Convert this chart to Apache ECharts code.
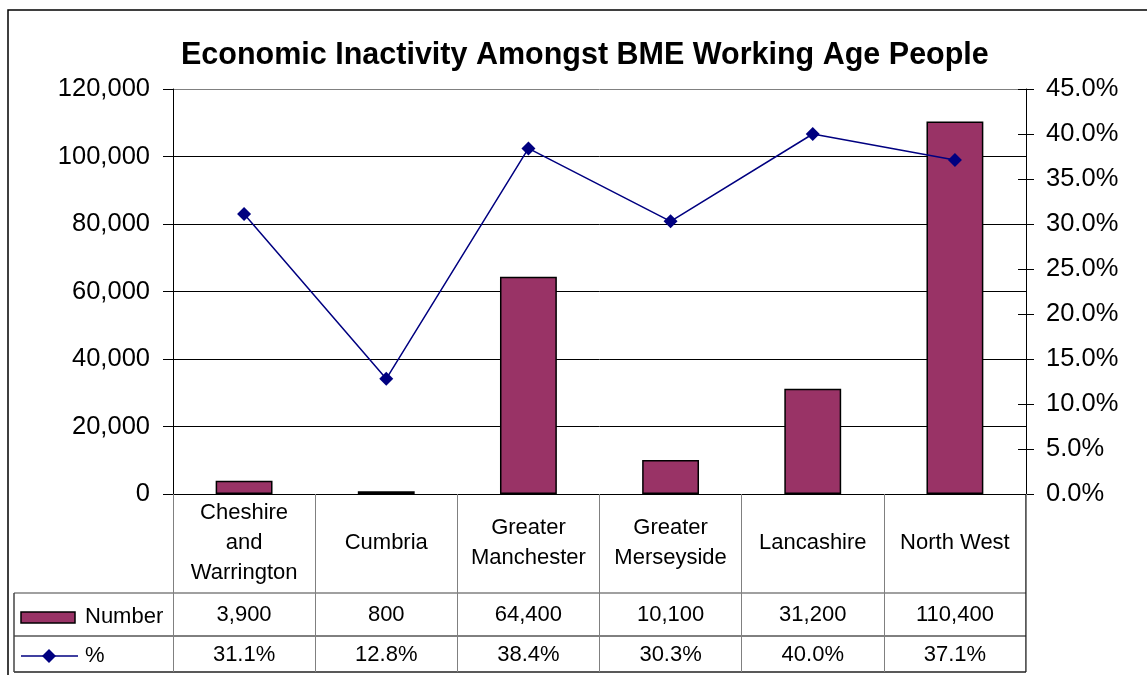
<!DOCTYPE html>
<html>
<head>
<meta charset="utf-8">
<script src="https://cdn.jsdelivr.net/npm/echarts@6/dist/echarts.min.js"></script>
<style>
html,body{margin:0;padding:0;background:#fff;}
#chart{width:1147px;height:675px;}
</style>
</head>
<body>
<div id="chart"></div>
<script>
const titleText = 'Economic Inactivity Amongst BME Working Age People';
const categories = ['Cheshire and Warrington', 'Cumbria', 'Greater Manchester', 'Greater Merseyside', 'Lancashire', 'North West'];
const categoryLabels = ['Cheshire\nand\nWarrington', 'Cumbria', 'Greater\nManchester', 'Greater\nMerseyside', 'Lancashire', 'North West'];
const numberValues = [3900, 800, 64400, 10100, 31200, 110400];
const percentValues = [31.1, 12.8, 38.4, 30.3, 40.0, 37.1];
const seriesNames = ['Number', '%'];
const leftAxis = {min: 0, max: 120000, interval: 20000};
const rightAxis = {min: 0, max: 45, interval: 5};

const FONT = "'Liberation Sans', Arial, sans-serif";
const BAR_COLOR = '#993366';
const LINE_COLOR = '#000080';
const fmtNum = v => v.toLocaleString('en-US');
const fmtPct = v => v.toFixed(1) + '%';

const chart = echarts.init(document.getElementById('chart'), null, {renderer: 'canvas'});

const option = {
  backgroundColor: '#fff',
  animation: false,
  textStyle: {fontFamily: FONT},
  title: {
    text: titleText,
    left: 176, top: 35,
    textStyle: {fontFamily: FONT, fontSize: 30.5, fontWeight: 'bold', color: '#000'}
  },
  grid: {left: 173, right: 121, top: 89, bottom: 181, containLabel: false},
  xAxis: {
    type: 'category',
    data: categoryLabels,
    axisLine: {lineStyle: {color: '#000', width: 1}},
    axisTick: {show: true, length: 178, lineStyle: {color: '#808080', width: 1}},
    axisLabel: {
      interval: 0, margin: 49, verticalAlign: 'middle',
      fontFamily: FONT, fontSize: 22, lineHeight: 30, color: '#000', align: 'center'
    },
    splitLine: {show: false}
  },
  yAxis: [
    {
      type: 'value', position: 'left',
      min: leftAxis.min, max: leftAxis.max, interval: leftAxis.interval,
      axisLine: {show: true, lineStyle: {color: '#000', width: 1}},
      axisTick: {show: true, length: 10, lineStyle: {color: '#000'}},
      axisLabel: {margin: 23, fontFamily: FONT, fontSize: 25.5, color: '#000', formatter: v => fmtNum(v)},
      splitLine: {show: true, lineStyle: {color: ['#000', '#000', '#000', '#000', '#000', '#000', '#808080'], width: 1}}
    },
    {
      type: 'value', position: 'right',
      min: rightAxis.min, max: rightAxis.max, interval: rightAxis.interval,
      axisLine: {show: true, lineStyle: {color: '#000', width: 1}},
      axisTick: {show: true, length: 8, lineStyle: {color: '#000'}},
      axisLabel: {margin: 20, fontFamily: FONT, fontSize: 25.5, color: '#000', formatter: v => fmtPct(v)},
      splitLine: {show: false}
    },
    {
      type: 'value', position: 'right',
      min: rightAxis.min, max: rightAxis.max, interval: rightAxis.interval,
      axisLine: {show: false},
      axisTick: {show: true, inside: true, length: 8, lineStyle: {color: '#000'}},
      axisLabel: {show: false},
      splitLine: {show: false}
    }
  ],
  series: [
    {
      name: seriesNames[0], type: 'bar', yAxisIndex: 0,
      data: numberValues, barWidth: '40%',
      itemStyle: {color: BAR_COLOR, borderColor: '#000', borderWidth: 1.5},
      z: 2
    },
    {
      name: seriesNames[1], type: 'line', yAxisIndex: 1,
      data: percentValues,
      lineStyle: {color: LINE_COLOR, width: 1.5},
      itemStyle: {color: LINE_COLOR},
      symbol: 'diamond', symbolSize: 14, showSymbol: true,
      z: 5
    }
  ]
};
chart.setOption(option);

// Data table below the chart
const yAxisBase = 494;
const rowTop = 593, rowMid = 636, rowBottom = 672;
const tableLeft = 14;
const plotRight = chart.convertToPixel({yAxisIndex: 1}, 0) !== undefined ? 1026 : 1026;
const graphics = [];
// outer chart border
graphics.push({type: 'rect', shape: {x: 8, y: 10, width: 1200, height: 700}, style: {fill: 'none', stroke: '#000', lineWidth: 1.5}, silent: true, z: 0});
// table lines
graphics.push({type: 'line', shape: {x1: tableLeft, y1: rowTop, x2: plotRight, y2: rowTop}, style: {stroke: '#808080', lineWidth: 1.5}});
graphics.push({type: 'line', shape: {x1: tableLeft, y1: rowMid, x2: plotRight, y2: rowMid}, style: {stroke: '#000', lineWidth: 1}});
graphics.push({type: 'line', shape: {x1: tableLeft, y1: rowBottom, x2: plotRight, y2: rowBottom}, style: {stroke: '#222', lineWidth: 1.5}});
graphics.push({type: 'line', shape: {x1: tableLeft, y1: rowTop, x2: tableLeft, y2: rowBottom}, style: {stroke: '#444', lineWidth: 1.5}});
graphics.push({type: 'line', shape: {x1: plotRight, y1: yAxisBase, x2: plotRight, y2: rowBottom}, style: {stroke: '#222', lineWidth: 1.5}});
// legend keys
graphics.push({type: 'rect', shape: {x: 21, y: 612, width: 54, height: 11}, style: {fill: BAR_COLOR, stroke: '#000', lineWidth: 1.5}});
graphics.push({type: 'text', x: 85, y: 617, style: {text: seriesNames[0], font: '22px ' + FONT, fill: '#000', textVerticalAlign: 'middle', textAlign: 'left'}});
graphics.push({type: 'line', shape: {x1: 21, y1: 656, x2: 78, y2: 656}, style: {stroke: LINE_COLOR, lineWidth: 1.5}});
graphics.push({type: 'polygon', shape: {points: [[49, 649], [56, 656], [49, 663], [42, 656]]}, style: {fill: LINE_COLOR}});
graphics.push({type: 'text', x: 85, y: 656, style: {text: seriesNames[1], font: '22px ' + FONT, fill: '#000', textVerticalAlign: 'middle', textAlign: 'left'}});
// table values
for (let i = 0; i < categories.length; i++) {
  const cx = chart.convertToPixel({xAxisIndex: 0}, i);
  graphics.push({type: 'text', x: cx, y: 615, style: {text: fmtNum(numberValues[i]), font: '22px ' + FONT, fill: '#000', textAlign: 'center', textVerticalAlign: 'middle'}});
  graphics.push({type: 'text', x: cx, y: 655, style: {text: fmtPct(percentValues[i]), font: '22px ' + FONT, fill: '#000', textAlign: 'center', textVerticalAlign: 'middle'}});
}
chart.setOption({graphic: {elements: graphics}});
</script>
</body>
</html>
